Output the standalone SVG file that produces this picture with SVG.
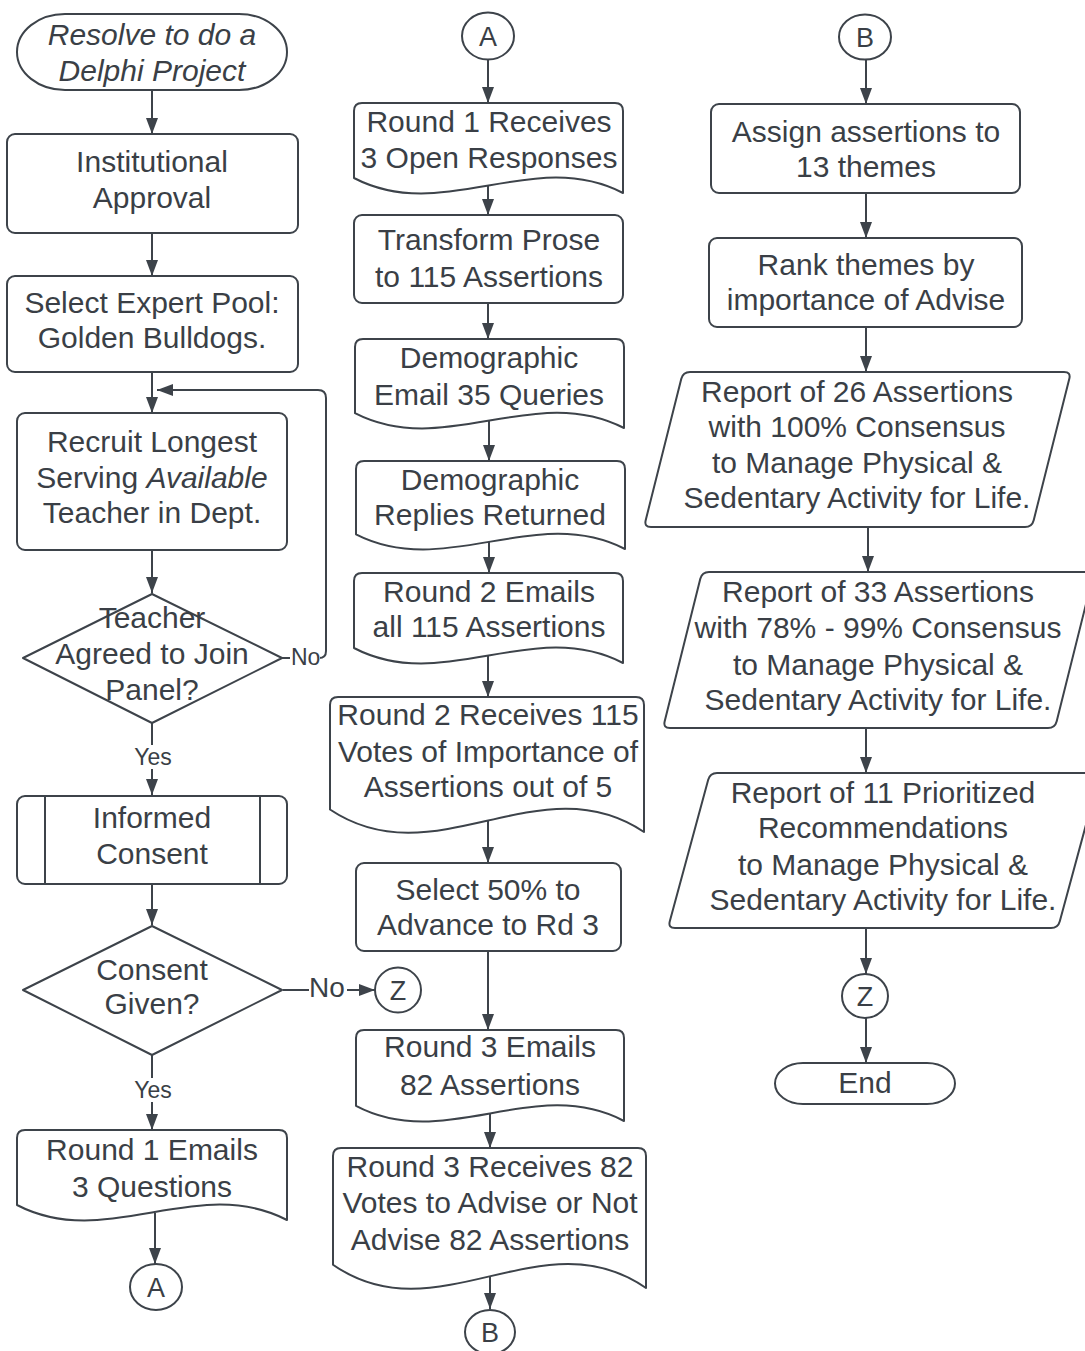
<svg xmlns="http://www.w3.org/2000/svg" width="1085" height="1351" viewBox="0 0 1085 1351">
<defs>
<style>
.s{fill:#fff;stroke:#3d434a;stroke-width:2;stroke-linejoin:round}
.t{font-family:"Liberation Sans",Arial,sans-serif;font-size:30px;fill:#3a3f46;text-anchor:middle}
.c{fill:none;stroke:#3d434a;stroke-width:2}
.a{marker-end:url(#ah)}
.lb{font-family:"Liberation Sans",Arial,sans-serif;font-size:23px;fill:#3a3f46;text-anchor:middle}
.bg{fill:#fff;stroke:none}
</style>
<marker id="ah" viewBox="0 0 16 12" refX="16" refY="6" markerWidth="16" markerHeight="12" markerUnits="userSpaceOnUse" orient="auto">
<path d="M0,0 L16,6 L0,12 Z" fill="#3d434a"/>
</marker>
</defs>
<rect width="1085" height="1351" fill="#fff"/>

<g id="connectors">
<path class="c a" d="M152,90 V134"/>
<path class="c a" d="M152,233 V276"/>
<path class="c a" d="M152,372 V413"/>
<path class="c a" d="M152,550 V593"/>
<path class="c a" d="M152,723 V795"/>
<path class="c a" d="M152,884 V925"/>
<path class="c a" d="M283,990 H375"/>
<path class="c a" d="M152,1055 V1130"/>
<path class="c a" d="M155,1213 V1264"/>
<path class="c a" d="M282,658 H319 Q326,658 326,651 V398 Q326,390 318,390 H157"/>
<path class="c a" d="M488,60 V103"/>
<path class="c a" d="M488,186 V215"/>
<path class="c a" d="M488,303 V339"/>
<path class="c a" d="M489,421 V461"/>
<path class="c a" d="M489,542 V573"/>
<path class="c a" d="M488,656 V697"/>
<path class="c a" d="M488,821 V863"/>
<path class="c a" d="M488,951 V1030"/>
<path class="c a" d="M490,1113 V1148"/>
<path class="c a" d="M490,1276 V1309"/>
<path class="c a" d="M866,60 V104"/>
<path class="c a" d="M866,193 V238"/>
<path class="c a" d="M866,327 V372"/>
<path class="c a" d="M868,527 V572"/>
<path class="c a" d="M866,728 V773"/>
<path class="c a" d="M866,928 V974"/>
<path class="c a" d="M866,1018 V1063"/>
<rect class="bg" x="136" y="745" width="34" height="24"/>
<text class="lb" x="153" y="765">Yes</text>
<rect class="bg" x="136" y="1078" width="34" height="24"/>
<text class="lb" x="153" y="1098">Yes</text>
<rect class="bg" x="290" y="646" width="30" height="22"/>
<text class="lb" x="291" y="665" style="text-anchor:start">No</text>
<rect class="bg" x="309" y="974" width="38" height="28"/>
<text class="lb" x="309" y="997" style="text-anchor:start;font-size:28px">No</text>
</g>

<g id="start">
<rect class="s" x="17" y="14" width="270" height="76" rx="48" ry="38"/>
<text class="t" font-style="italic" x="152" y="45">Resolve to do a</text>
<text class="t" font-style="italic" x="152" y="81">Delphi Project</text>
</g>
<g id="institutional">
<rect class="s" x="7" y="134" width="291" height="99" rx="8"/>
<text class="t" x="152" y="172">Institutional</text>
<text class="t" x="152" y="208">Approval</text>
</g>
<g id="select-pool">
<rect class="s" x="7" y="276" width="291" height="96" rx="8"/>
<text class="t" x="152" y="313">Select Expert Pool:</text>
<text class="t" x="152" y="348">Golden Bulldogs.</text>
</g>
<g id="recruit">
<rect class="s" x="17" y="413" width="270" height="137" rx="8"/>
<text class="t" x="152" y="452">Recruit Longest</text>
<text class="t" x="152" y="488">Serving <tspan font-style="italic">Available</tspan></text>
<text class="t" x="152" y="523">Teacher in Dept.</text>
</g>
<g id="teacher-agreed">
<path class="s" d="M152,594 L282,658 L152,723 L23,658 Z"/>
<text class="t" x="152" y="628">Teacher</text>
<text class="t" x="152" y="664">Agreed to Join</text>
<text class="t" x="152" y="700">Panel?</text>
</g>
<g id="informed-consent">
<rect class="s" x="17" y="796" width="270" height="88" rx="8"/>
<path class="c" d="M45,796 V884 M260,796 V884"/>
<text class="t" x="152" y="828">Informed</text>
<text class="t" x="152" y="864">Consent</text>
</g>
<g id="consent-given">
<path class="s" d="M152,926 L282,990 L152,1055 L23,990 Z"/>
<text class="t" x="152" y="980">Consent</text>
<text class="t" x="152" y="1014">Given?</text>
</g>
<g id="z-left">
<ellipse class="s" cx="398" cy="990" rx="23" ry="22.5"/>
<text class="t" x="398" y="1000" style="font-size:27px">Z</text>
</g>
<g id="round1-emails">
<path class="s" d="M17,1205 V1138 Q17,1130 25,1130 H279 Q287,1130 287,1138 V1220 C197,1173.4 107,1251.7 17,1205 Z"/>
<text class="t" x="152" y="1160">Round 1 Emails</text>
<text class="t" x="152" y="1197">3 Questions</text>
</g>
<g id="a-bottom">
<ellipse class="s" cx="156" cy="1287" rx="26" ry="23"/>
<text class="t" x="156" y="1297" style="font-size:27px">A</text>
</g>

<g id="a-top">
<ellipse class="s" cx="488" cy="36" rx="26" ry="23.5"/>
<text class="t" x="488" y="46" style="font-size:27px">A</text>
</g>
<g id="round1-receives">
<path class="s" d="M354,178 V111 Q354,103 362,103 H615 Q623,103 623,111 V193 C533.3,146.4 443.7,224.7 354,178 Z"/>
<text class="t" x="489" y="132">Round 1 Receives</text>
<text class="t" x="489" y="168">3 Open Responses</text>
</g>
<g id="transform">
<rect class="s" x="354" y="215" width="269" height="88" rx="8"/>
<text class="t" x="489" y="250">Transform Prose</text>
<text class="t" x="489" y="287">to 115 Assertions</text>
</g>
<g id="demo-email">
<path class="s" d="M355,413.2 V347 Q355,339 363,339 H616 Q624,339 624,347 V428 C534.3,381.9 444.7,459.3 355,413.2 Z"/>
<text class="t" x="489" y="368">Demographic</text>
<text class="t" x="489" y="405">Email 35 Queries</text>
</g>
<g id="demo-replies">
<path class="s" d="M356,534.3 V469 Q356,461 364,461 H617 Q625,461 625,469 V549 C535.3,503.3 445.7,579.9 356,534.3 Z"/>
<text class="t" x="490" y="490">Demographic</text>
<text class="t" x="490" y="525">Replies Returned</text>
</g>
<g id="round2-emails">
<path class="s" d="M354,648 V581 Q354,573 362,573 H615 Q623,573 623,581 V663 C533.3,616.4 443.7,694.7 354,648 Z"/>
<text class="t" x="489" y="602">Round 2 Emails</text>
<text class="t" x="489" y="637">all 115 Assertions</text>
</g>
<g id="round2-receives">
<path class="s" d="M330,809.5 V705 Q330,697 338,697 H636 Q644,697 644,705 V832 C539.3,762 434.7,879.5 330,809.5 Z"/>
<text class="t" x="488" y="725">Round 2 Receives 115</text>
<text class="t" x="488" y="762">Votes of Importance of</text>
<text class="t" x="488" y="797">Assertions out of 5</text>
</g>
<g id="select50">
<rect class="s" x="356" y="863" width="265" height="88" rx="8"/>
<text class="t" x="488" y="900">Select 50% to</text>
<text class="t" x="488" y="935">Advance to Rd 3</text>
</g>
<g id="round3-emails">
<path class="s" d="M356,1105.8 V1038 Q356,1030 364,1030 H616 Q624,1030 624,1038 V1121 C534.7,1073.8 445.3,1153 356,1105.8 Z"/>
<text class="t" x="490" y="1057">Round 3 Emails</text>
<text class="t" x="490" y="1095">82 Assertions</text>
</g>
<g id="round3-receives">
<path class="s" d="M333,1264.7 V1156 Q333,1148 341,1148 H638 Q646,1148 646,1156 V1288 C541.7,1215.5 437.3,1337.3 333,1264.7 Z"/>
<text class="t" x="490" y="1177">Round 3 Receives 82</text>
<text class="t" x="490" y="1213">Votes to Advise or Not</text>
<text class="t" x="490" y="1250">Advise 82 Assertions</text>
</g>
<g id="b-bottom">
<ellipse class="s" cx="490" cy="1332" rx="25" ry="22"/>
<text class="t" x="490" y="1342" style="font-size:27px">B</text>
</g>

<g id="b-top">
<ellipse class="s" cx="865" cy="37" rx="26" ry="22.5"/>
<text class="t" x="865" y="47" style="font-size:27px">B</text>
</g>
<g id="assign">
<rect class="s" x="711" y="104" width="309" height="89" rx="8"/>
<text class="t" x="866" y="142">Assign assertions to</text>
<text class="t" x="866" y="177">13 themes</text>
</g>
<g id="rank">
<rect class="s" x="709" y="238" width="313" height="89" rx="8"/>
<text class="t" x="866" y="275">Rank themes by</text>
<text class="t" x="866" y="310">importance of Advise</text>
</g>
<g id="report26">
<path class="s" d="M690,372 H1064 Q1071,372 1069.3,378.8 L1033.7,520.2 Q1032,527 1025,527 H651 Q644,527 645.7,520.2 L681.3,378.8 Q683,372 690,372 Z"/>
<text class="t" x="857" y="402">Report of 26 Assertions</text>
<text class="t" x="857" y="437">with 100% Consensus</text>
<text class="t" x="857" y="473">to Manage Physical &amp;</text>
<text class="t" x="857" y="508">Sedentary Activity for Life.</text>
</g>
<g id="report33">
<path class="s" d="M709,572 H1087 Q1094,572 1092.3,578.8 L1056.7,721.2 Q1055,728 1048,728 H670 Q663,728 664.7,721.2 L700.3,578.8 Q702,572 709,572 Z"/>
<text class="t" x="878" y="602">Report of 33 Assertions</text>
<text class="t" x="878" y="638">with 78% - 99% Consensus</text>
<text class="t" x="878" y="675">to Manage Physical &amp;</text>
<text class="t" x="878" y="710">Sedentary Activity for Life.</text>
</g>
<g id="report11">
<path class="s" d="M717,773 H1093 Q1100,773 1098.2,779.8 L1059.8,921.2 Q1058,928 1051,928 H675 Q668,928 669.8,921.2 L708.2,779.8 Q710,773 717,773 Z"/>
<text class="t" x="883" y="803">Report of 11 Prioritized</text>
<text class="t" x="883" y="838">Recommendations</text>
<text class="t" x="883" y="875">to Manage Physical &amp;</text>
<text class="t" x="883" y="910">Sedentary Activity for Life.</text>
</g>
<g id="z-right">
<ellipse class="s" cx="865" cy="996" rx="23" ry="22"/>
<text class="t" x="865" y="1006" style="font-size:27px">Z</text>
</g>
<g id="end">
<rect class="s" x="775" y="1063" width="180" height="41" rx="28" ry="20.5"/>
<text class="t" x="865" y="1093">End</text>
</g>
</svg>
